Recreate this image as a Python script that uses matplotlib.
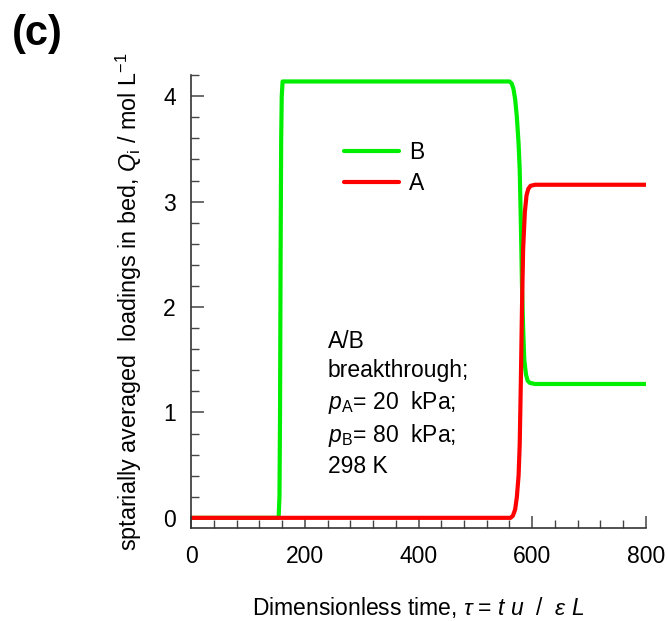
import matplotlib
matplotlib.use("Agg")
import matplotlib.pyplot as plt
from matplotlib.ticker import MultipleLocator

plt.rcParams['font.family'] = ['Liberation Sans', 'DejaVu Sans']
plt.rcParams['mathtext.fontset'] = 'custom'
plt.rcParams['mathtext.rm'] = 'Liberation Sans'
plt.rcParams['mathtext.it'] = 'Liberation Sans:italic'
plt.rcParams['mathtext.bf'] = 'Liberation Sans:bold'

# Component B (green)
tau_B = [0, 154, 155.5, 156.5, 157.5, 158.5, 159.5, 161, 560, 564, 567, 570, 573, 576,
         578, 580, 582, 584, 586, 589, 592, 596, 605, 800]
Q_B = [0, 0, 0.2, 1.0, 2.5, 3.6, 4.0, 4.14, 4.14, 4.12, 4.07, 3.97, 3.8, 3.55,
       3.3, 2.8, 2.2, 1.8, 1.5, 1.36, 1.3, 1.28, 1.27, 1.27]

# Component A (red)
tau_A = [0, 562, 566, 570, 573, 576, 578, 580, 582, 584, 587, 590, 593, 597, 605, 800]
Q_A = [0, 0, 0.02, 0.08, 0.2, 0.4, 0.7, 1.3, 2.0, 2.55, 2.9, 3.06, 3.12, 3.15, 3.16, 3.16]

xticks = [0, 200, 400, 600, 800]
yticks = [0, 1, 2, 3, 4]

FS = 16.5

fig = plt.figure(figsize=(6.68, 6.21), dpi=100)
ax = fig.add_axes([0.286, 0.150, 0.681, 0.729])

ax.plot(tau_B, Q_B, color='#00ee00', lw=3, label='B', solid_capstyle='round')
ax.plot(tau_A, Q_A, color='#ff0000', lw=3, label='A', solid_capstyle='round')

ax.set_xlim(0, 800)
ax.set_ylim(-0.095, 4.2)
ax.set_xticks(xticks)
ax.set_yticks(yticks)
ax.xaxis.set_minor_locator(MultipleLocator(40))
ax.yaxis.set_minor_locator(MultipleLocator(0.2))
for s in ['top', 'right']:
    ax.spines[s].set_visible(False)
for s in ['left', 'bottom']:
    ax.spines[s].set_color('#333333')
    ax.spines[s].set_linewidth(1.2)
ax.tick_params(which='major', direction='in', length=9, width=1.1, color='#444444',
               labelsize=FS)
ax.tick_params(which='minor', direction='in', length=6, width=1.0, color='#444444')
ax.tick_params(axis='x', which='major', pad=12)
ax.tick_params(axis='y', which='major', pad=11)

ax.set_xlabel(r'Dimensionless time, $\tau$ = $t$ $u$  /  $\varepsilon$ $L$', fontsize=FS, labelpad=20)
ax.set_ylabel(r'sptarially averaged  loadings in bed, $Q_{\mathrm{i}}$ / mol L$^{-1}$',
              fontsize=16.8, labelpad=14)

leg = ax.legend(loc='upper left', bbox_to_anchor=(0.3, 0.89), frameon=False, fontsize=FS,
                handlelength=2.4, labelspacing=0.35, handletextpad=0.45, borderpad=0.2)

txt = ('A/B\nbreakthrough;\n$p_{\\mathrm{A}}$= 20  kPa;\n$p_{\\mathrm{B}}$= 80  kPa;\n298 K')
ax.text(0.30, 0.437, txt, transform=ax.transAxes, fontsize=FS, va='top', ha='left',
        linespacing=1.33)

fig.text(0.018, 0.978, '(c)', fontsize=30, fontweight='bold', va='top', ha='left')

fig.savefig('out.png', dpi=100)
